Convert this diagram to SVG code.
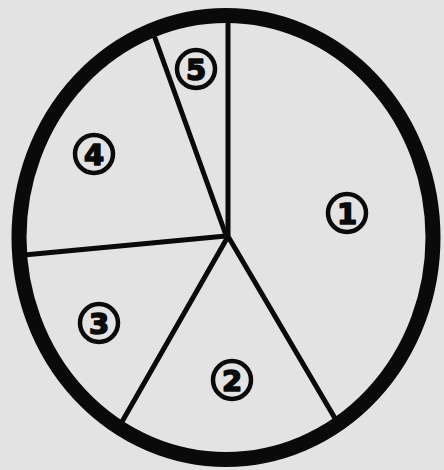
<svg xmlns="http://www.w3.org/2000/svg" width="444" height="470" viewBox="0 0 444 470">
<style>
.ring{fill:none;stroke:#0a0a0a;stroke-width:15}
.div{stroke:#0a0a0a;stroke-width:5;stroke-linecap:round}
.badge{fill:none;stroke:#0a0a0a;stroke-width:4.5}
.num{font-family:"DejaVu Sans",sans-serif;font-weight:bold;font-size:29px;fill:#0a0a0a;stroke:#0a0a0a;stroke-width:1.6;stroke-linejoin:round;text-anchor:middle}
</style>
<rect width="444" height="470" fill="#e3e3e3"/>
<ellipse id="rim" class="ring" cx="226" cy="237.5" rx="207" ry="222"/>
<g id="connectors">
<line class="div" x1="228" y1="24" x2="228" y2="238"/>
<line class="div" x1="155" y1="38" x2="227" y2="238"/>
<line class="div" x1="24" y1="255" x2="226" y2="236"/>
<line class="div" x1="123" y1="420" x2="226" y2="240"/>
<line class="div" x1="229" y1="238" x2="336" y2="420"/>
</g>
<g id="n1"><circle class="badge" cx="347" cy="213" r="19"/><text class="num" x="347" y="224">1</text></g>
<g id="n2"><circle class="badge" cx="232" cy="380" r="19"/><text class="num" x="232" y="391">2</text></g>
<g id="n3"><circle class="badge" cx="99" cy="323" r="19"/><text class="num" x="99" y="334">3</text></g>
<g id="n4"><circle class="badge" cx="94" cy="154" r="19"/><text class="num" x="94" y="165">4</text></g>
<g id="n5"><circle class="badge" cx="196" cy="69" r="19"/><text class="num" x="196" y="80">5</text></g>
</svg>
